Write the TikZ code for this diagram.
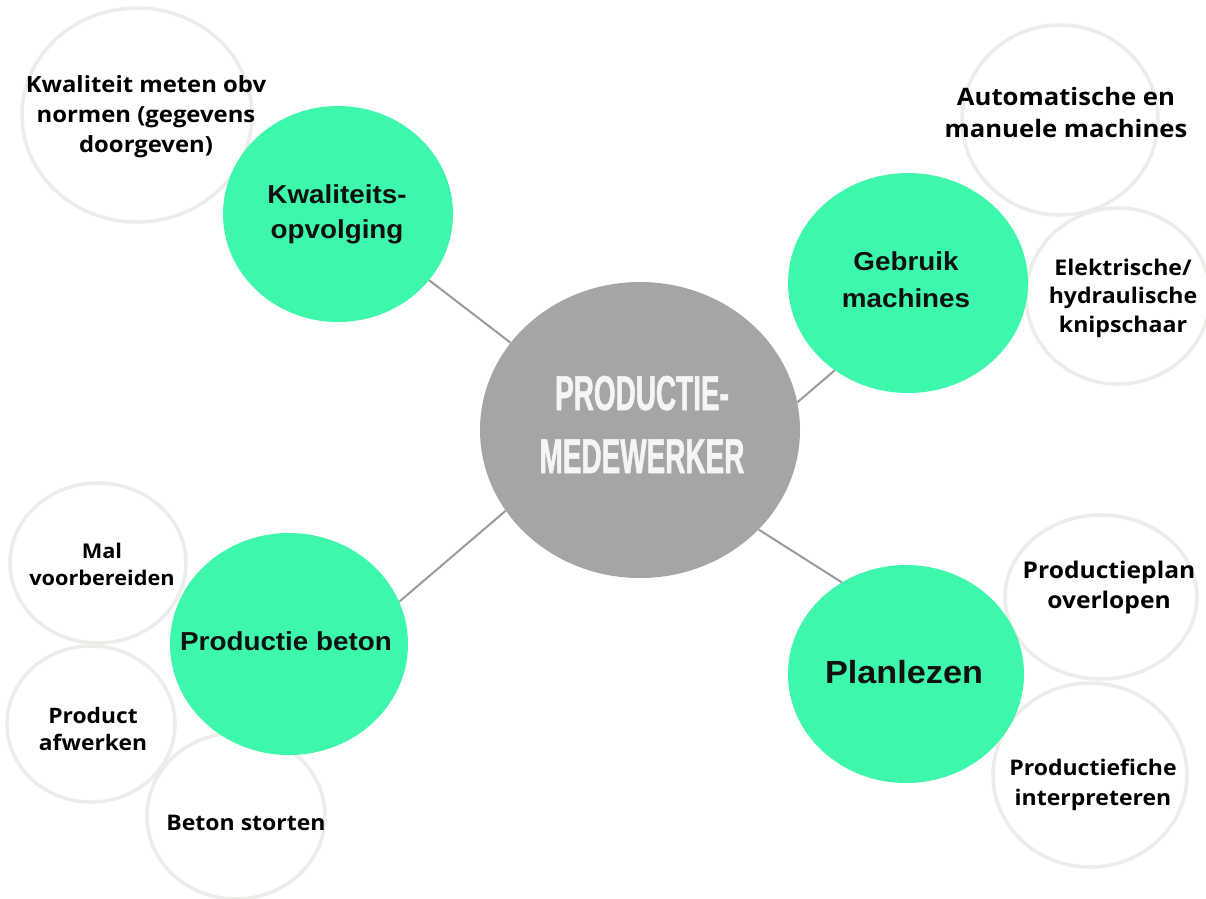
\documentclass[tikz,border=0pt]{standalone}
\usepackage{fontspec}
\usetikzlibrary{shapes.geometric}
\newfontfamily\osans[FakeStretch=1.07]{Open Sans}
\newfontfamily\lsans[FakeStretch=1.07]{Liberation Sans}
\newfontfamily\csans[FakeStretch=0.57,FakeBold=1]{Liberation Sans}
\definecolor{mint}{RGB}{61,248,170}
\definecolor{hubgray}{RGB}{165,165,165}
\definecolor{linegray}{RGB}{155,155,155}
\definecolor{ringgray}{RGB}{236,236,233}
\definecolor{ink}{RGB}{17,17,17}
\newcommand\fsz[2]{\fontsize{#1}{#2}\selectfont}
\begin{document}
\begin{tikzpicture}[x=1pt,y=-1pt,
  ring/.style 2 args={ellipse, draw=ringgray, line width=3.5pt, inner sep=0pt,
    minimum width=#1, minimum height=#2},
  blob/.style 2 args={ellipse, fill=mint, draw=none, inner sep=0pt,
    minimum width=#1, minimum height=#2},
  hub/.style 2 args={ellipse, fill=hubgray, draw=none, inner sep=0pt,
    minimum width=#1, minimum height=#2},
  wtext/.style={anchor=base, align=center, inner sep=0pt, text=black, font=\osans\bfseries},
  gtext/.style={anchor=base, align=center, inner sep=0pt, text=ink, font=\lsans\bfseries},
  ctext/.style={anchor=base, align=center, inner sep=0pt, text=white!96!black, font=\csans\bfseries},
  link/.style={draw=linegray, line width=2pt}
]
\fill[white] (0,0) rectangle (1206,898);
\useasboundingbox (0,0) rectangle (1206,898);

% white rings
\node[ring={230}{214}] (w1) at (137,115) {};
\node[ring={196}{190}] (w2) at (1060,120) {};
\node[ring={184}{176}] (w3) at (1118,296) {};
\node[ring={176}{160}] (w4) at (98,563) {};
\node[ring={168}{156}] (w5) at (91,724) {};
\node[ring={178}{166}] (w6) at (236,816) {};
\node[ring={192}{164}] (w7) at (1101,597) {};
\node[ring={194}{184}] (w8) at (1090,775) {};

% green blobs
\node[blob={230}{216}] (g1) at (338,214) {};
\node[blob={240}{220}] (g2) at (908,283) {};
\node[blob={238}{222}] (g3) at (289,644) {};
\node[blob={236}{218}] (g4) at (906,674) {};

% hub
\node[hub={320}{296}] (c) at (640,430) {};

% links
\draw[link] (g1.-36) -- (c.146);
\draw[link] (g2.230) -- (c.10);
\draw[link] (g3.21) -- (c.211);
\draw[link] (g4.125) -- (c.320);

% texts (base anchor = baseline of the last line)
\node[ctext, font=\csans\bfseries\fsz{49}{63}] (ct) at (642,473) {PRODUCTIE-\\MEDEWERKER};

\node[gtext, font=\lsans\bfseries\fsz{26}{35}] (g1t) at (337,238) {Kwaliteits-\\opvolging};
\node[gtext, font=\lsans\bfseries\fsz{26}{37}] (g2t) at (906,307) {Gebruik\\machines};
\node[gtext, font=\lsans\bfseries\fsz{26}{34}] (g3t) at (286,650) {Productie beton};
\node[gtext, font=\lsans\bfseries\fsz{32}{40}] (g4t) at (904,683) {Planlezen};

\node[wtext, font=\osans\bfseries\fsz{22.3}{30}] (w1t) at (146,152) {Kwaliteit meten obv\\normen (gegevens\\doorgeven)};
\node[wtext, font=\osans\bfseries\fsz{24}{32}] (w2t) at (1066,137) {Automatische en\\manuele machines};
\node[wtext, font=\osans\bfseries\fsz{21.6}{28.5}] (w3t) at (1123,332) {Elektrische/\\hydraulische\\knipschaar};
\node[wtext, font=\osans\bfseries\fsz{20.3}{27}] (w4t) at (102,585) {Mal\\voorbereiden};
\node[wtext, font=\osans\bfseries\fsz{21.3}{27}] (w5t) at (93,750) {Product\\afwerken};
\node[wtext, font=\osans\bfseries\fsz{21.5}{28}] (w6t) at (246,830) {Beton storten};
\node[wtext, font=\osans\bfseries\fsz{23}{30}] (w7t) at (1109,608) {Productieplan\\overlopen};
\node[wtext, font=\osans\bfseries\fsz{21.5}{30}] (w8t) at (1093,805) {Productiefiche\\interpreteren};
\end{tikzpicture}
\end{document}
